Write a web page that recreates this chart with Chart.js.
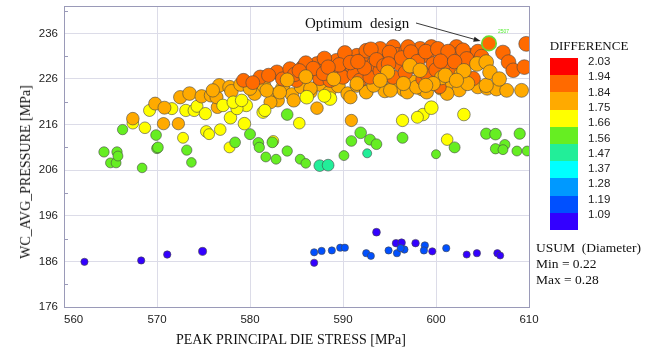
<!DOCTYPE html>
<html><head><meta charset="utf-8">
<script src="https://cdn.jsdelivr.net/npm/chart.js@4.4.1/dist/chart.umd.min.js"></script>
<style>
html,body{margin:0;padding:0;background:#fff;}
#wrap{position:relative;width:647px;height:355px;overflow:hidden;background:#fff;}
#wrap canvas{position:absolute;left:0;top:0;}
.t{position:absolute;white-space:pre;font-family:"Liberation Serif","Times New Roman",serif;color:#111;line-height:1;}
.n{position:absolute;white-space:pre;font-family:"Liberation Sans",Arial,sans-serif;font-size:11.5px;color:#222;line-height:1;transform:translateY(-50%);}
.box{position:absolute;left:550px;width:28px;}
</style></head><body>
<div id="wrap">
<canvas id="c" width="647" height="355"></canvas>
<div class="t" id="xt" style="font-size:14px;left:291px;top:340px;transform:translate(-50%,-50%);">PEAK PRINCIPAL DIE STRESS [MPa]</div>
<div class="t" id="yt" style="font-size:14px;left:26px;top:172px;transform:translate(-50%,-50%) rotate(-90deg);">WC_AVG_PRESSURE [MPa]</div>
<div class="t" style="font-size:15px;left:305px;top:23px;transform:translateY(-50%);">Optimum  design</div>
<div class="t" style="font-size:5px;left:498px;top:29px;color:#55ee33;font-family:'Liberation Sans',sans-serif;">2507</div>
<div class="t" style="font-size:13px;left:589px;top:45px;transform:translate(-50%,-50%);">DIFFERENCE</div>
<div id="legend"></div>
<div class="t" style="font-size:13.5px;left:536px;top:248px;transform:translateY(-50%);">USUM  (Diameter)</div>
<div class="t" style="font-size:13.5px;left:536px;top:264px;transform:translateY(-50%);">Min = 0.22</div>
<div class="t" style="font-size:13.5px;left:536px;top:280px;transform:translateY(-50%);">Max = 0.28</div>
</div>
<script>
// ---- data: [peak principal die stress, wc avg pressure, difference, usum diameter]
const xTicks = [560, 570, 580, 590, 600, 610];
const yTicks = [176, 186, 196, 206, 216, 226, 236];
const legendLabels = ["2.03","1.94","1.84","1.75","1.66","1.56","1.47","1.37","1.28","1.19","1.09"];
const legendBounds = [2.03,1.94,1.84,1.75,1.66,1.56,1.47,1.37,1.28,1.19,1.09];
const legendColors = ["#ff0000","#ff6a00","#ffaa00","#ffff00","#66ee22","#22ee99","#00ffff","#0099ff","#0050ff","#3300ff"];
const usumMin = 0.22, usumMax = 0.28;

const yellowLow = [
 [567.4,216.3,1.70,0.255],[568.7,215.3,1.71,0.255],[572.8,213.1,1.69,0.25],[569.2,219.1,1.72,0.258],
 [571.6,219.5,1.70,0.258],[573.1,219.1,1.71,0.26],[574.0,219.1,1.72,0.26],[574.3,220.0,1.73,0.258],
 [575.2,218.4,1.70,0.26],[575.3,214.5,1.69,0.255],[575.6,213.9,1.68,0.25],[576.8,214.9,1.70,0.255],
 [577.9,217.5,1.72,0.262],[579.4,216.2,1.71,0.262],[581.4,218.7,1.73,0.26],[577.8,211.0,1.68,0.25],
 [582.5,212.4,1.69,0.25],[585.3,216.3,1.71,0.255],[596.4,216.9,1.70,0.26],[598.6,218.2,1.72,0.262],
 [599.5,219.7,1.73,0.27],[603.0,218.2,1.72,0.262],[601.2,212.7,1.69,0.255],[598.0,217.6,1.71,0.258]
];
const greenPts = [
 [564.3,210.0,1.61,0.245],[565.7,210.0,1.60,0.245],[565.0,207.6,1.59,0.242],[565.6,207.6,1.60,0.242],
 [565.8,209.1,1.60,0.242],[568.4,206.5,1.58,0.24],[566.3,214.9,1.62,0.245],[569.9,213.7,1.62,0.248],
 [570.0,210.8,1.60,0.248],[570.1,211.0,1.61,0.248],[573.2,210.4,1.60,0.245],[573.7,207.7,1.59,0.24],
 [580.0,213.9,1.62,0.25],[578.4,212.1,1.61,0.248],[580.9,212.0,1.61,0.248],[581.0,211.0,1.60,0.245],
 [582.4,212.1,1.61,0.248],[581.7,208.9,1.59,0.242],[582.8,208.4,1.59,0.242],[584.0,210.2,1.60,0.245],
 [585.4,208.4,1.59,0.242],[586.0,207.5,1.58,0.24],[590.1,209.2,1.59,0.242],[591.9,214.2,1.63,0.255],
 [590.9,212.4,1.61,0.248],[592.9,212.7,1.62,0.25],[593.6,211.7,1.61,0.248],[596.4,213.1,1.62,0.25],
 [602.0,211.0,1.61,0.25],[600.0,209.5,1.58,0.235],[605.4,214.0,1.63,0.252],[606.4,213.9,1.63,0.255],
 [609.0,214.0,1.62,0.252],[606.4,210.7,1.60,0.245],[607.4,211.6,1.61,0.245],[607.2,210.5,1.60,0.242],
 [608.7,210.2,1.60,0.242],[609.8,210.2,1.60,0.242],[584.0,218.2,1.64,0.255]
];
const tealPts = [[587.5,207.0,1.52,0.255],[588.4,207.1,1.51,0.256],[592.6,209.7,1.53,0.235]];
const indigoPts = [
 [562.2,185.9,1.12,0.222],[568.3,186.2,1.13,0.222],[571.1,187.5,1.12,0.223],[574.9,188.2,1.14,0.228],
 [586.9,185.7,1.13,0.222],[593.6,192.4,1.15,0.226],[595.7,190.0,1.14,0.224],[596.3,190.1,1.16,0.225],
 [597.8,190.0,1.15,0.224],[599.6,188.2,1.14,0.222],[603.3,187.5,1.13,0.221],[604.4,187.8,1.14,0.222],
 [606.6,187.8,1.15,0.222],[606.9,187.3,1.13,0.221]
];
const bluePts = [
 [586.9,188.0,1.21,0.222],[587.7,188.3,1.22,0.222],[588.8,188.4,1.21,0.222],[589.7,189.0,1.23,0.222],
 [590.2,189.0,1.22,0.222],[592.5,187.8,1.21,0.222],[593.0,187.2,1.20,0.221],[594.9,188.4,1.22,0.222],
 [595.8,187.8,1.21,0.222],[596.6,188.6,1.23,0.223],[596.2,188.9,1.22,0.222],[598.8,189.5,1.22,0.223],
 [598.7,188.4,1.21,0.222],[601.1,188.9,1.22,0.222]
];
const orangeLow = [
 [567.4,217.3,1.77,0.262],[569.8,220.6,1.78,0.265],[570.8,219.7,1.77,0.265],[570.7,216.2,1.77,0.26],
 [572.3,216.2,1.76,0.26],[576.5,219.8,1.78,0.262],[587.2,219.6,1.77,0.262],[590.9,216.9,1.76,0.26]
];
const orangeBand = [
 [572.5,222.0,1.79,0.268],[573.5,222.8,1.80,0.27],[574.8,222.2,1.79,0.268],[575.8,222.4,1.80,0.268],
 [576.4,222.0,1.79,0.266],[576.7,224.6,1.81,0.27],[577.8,224.2,1.80,0.27],[576.0,223.5,1.80,0.268],
 [578.0,223.3,1.79,0.27],[579.0,224.8,1.81,0.272],[580.5,222.8,1.80,0.27],[581.5,224.5,1.81,0.272],
 [582.5,222.5,1.79,0.27],[583.5,224.0,1.80,0.272],[584.5,222.6,1.79,0.27],[585.5,224.3,1.81,0.272],
 [586.5,223.2,1.80,0.27],[587.5,224.8,1.81,0.272],[588.5,223.0,1.80,0.27],[589.5,224.5,1.81,0.272],
 [590.5,222.8,1.79,0.27],[591.5,224.6,1.81,0.272],[592.5,223.3,1.80,0.27],[593.5,224.9,1.82,0.274],
 [594.5,223.4,1.80,0.272],[595.5,225.1,1.82,0.274],[596.5,223.7,1.80,0.272],[597.5,225.3,1.82,0.274],
 [598.5,223.8,1.81,0.272],[599.5,225.3,1.82,0.274],[600.5,224.0,1.81,0.272],[601.5,225.5,1.82,0.275],
 [602.5,223.6,1.80,0.272],[603.5,225.2,1.82,0.275],[604.5,224.3,1.81,0.274],[605.5,224.0,1.81,0.274],
 [606.5,223.8,1.80,0.272],[607.6,223.5,1.80,0.272],[609.2,223.5,1.80,0.272],[583.0,221.3,1.78,0.266],
 [584.7,221.3,1.78,0.268],[582.2,220.9,1.78,0.266],[590.8,222.0,1.79,0.268],[580.0,223.9,1.80,0.27],
 [581.8,223.5,1.80,0.27],[583.2,223.1,1.79,0.27],[586.5,223.9,1.80,0.27],[592.5,223.1,1.80,0.27],
 [593.3,224.6,1.81,0.272],[595.1,223.5,1.80,0.272],[596.9,223.1,1.80,0.27],[599.0,223.1,1.80,0.27],
 [601.2,222.8,1.79,0.27],[597.9,224.2,1.81,0.272],[579.6,220.2,1.71,0.262],[578.6,219.5,1.70,0.26],
 [577.1,220.2,1.71,0.262],[578.2,220.9,1.72,0.262],[579.1,221.3,1.72,0.262],[581.6,219.1,1.71,0.26]
];
const darkBand = [
 [579.3,225.7,1.88,0.272],[581.1,226.4,1.88,0.274],[582.9,227.5,1.89,0.275],[583.5,226.0,1.88,0.274],
 [584.3,228.2,1.89,0.276],[585.0,225.7,1.88,0.274],[585.7,228.6,1.89,0.276],[586.3,227.4,1.89,0.275],
 [587.2,229.3,1.90,0.277],[587.5,226.1,1.88,0.274],[588.2,229.3,1.90,0.277],[588.6,225.7,1.88,0.274],
 [589.0,228.0,1.89,0.276],[589.3,230.0,1.90,0.277],[589.8,227.5,1.89,0.275],[590.0,226.4,1.88,0.274],
 [590.4,230.4,1.90,0.278],[591.0,228.7,1.89,0.276],[591.2,227.0,1.89,0.275],[591.5,231.1,1.91,0.278],
 [591.8,225.7,1.88,0.274],[592.0,230.0,1.90,0.277],[592.5,232.2,1.91,0.278],[592.9,226.4,1.88,0.274],
 [593.3,229.3,1.90,0.277],[593.8,231.0,1.90,0.278],[594.0,232.6,1.91,0.278],[594.0,227.8,1.89,0.276],
 [594.7,230.0,1.90,0.277],[595.4,233.0,1.91,0.279],[595.4,226.4,1.88,0.275],[595.8,231.3,1.90,0.278],
 [596.1,229.3,1.90,0.277],[596.7,227.4,1.89,0.276],[596.8,232.2,1.91,0.278],[597.6,230.8,1.90,0.278],
 [597.9,228.6,1.89,0.277],[598.3,232.6,1.91,0.279],[598.6,226.0,1.88,0.275],[599.0,231.2,1.90,0.278],
 [599.0,227.1,1.89,0.276],[599.5,233.0,1.91,0.279],[599.7,229.3,1.90,0.277],[600.0,228.0,1.89,0.276],
 [600.4,224.2,1.86,0.265],[600.8,231.5,1.90,0.278],[601.0,230.0,1.90,0.277],[601.5,228.6,1.89,0.277],
 [601.9,227.1,1.89,0.276],[602.2,233.0,1.91,0.279],[602.5,231.5,1.90,0.278],[603.0,229.3,1.90,0.277],
 [603.7,231.1,1.90,0.278],[604.0,226.1,1.88,0.275],[604.5,232.0,1.91,0.278],[607.2,231.8,1.90,0.278],
 [607.8,229.7,1.89,0.278],[608.3,227.9,1.89,0.277],[609.5,228.6,1.89,0.278],[609.7,233.7,1.91,0.279],
 [586.0,229.5,1.90,0.276],[588.0,230.5,1.90,0.277],[590.2,231.7,1.91,0.278],[593.0,232.5,1.91,0.278],
 [597.0,233.0,1.91,0.279],
 [584.8,227.0,1.89,0.275],[586.8,228.3,1.89,0.276],[587.9,227.2,1.89,0.275],[589.6,229.1,1.90,0.277],
 [590.8,229.6,1.90,0.277],[592.3,228.4,1.89,0.276],[593.6,230.2,1.90,0.277],[594.4,228.9,1.89,0.277],
 [595.0,231.8,1.91,0.278],[596.3,230.6,1.90,0.278],[597.3,231.9,1.91,0.278],[598.0,229.8,1.90,0.277],
 [598.9,232.0,1.91,0.278],[600.2,232.6,1.91,0.279],[601.3,232.0,1.91,0.278],[602.9,232.3,1.91,0.278],
 [603.3,230.4,1.90,0.278],[604.9,230.9,1.90,0.278],[585.3,227.8,1.89,0.276],[588.4,228.6,1.89,0.276],
 [591.6,229.8,1.90,0.277],[594.9,229.3,1.90,0.277],[600.5,229.9,1.90,0.277],[602.0,229.8,1.90,0.277],
 [580.3,225.2,1.88,0.272],[582.0,226.8,1.88,0.274]
];
const orangeUpper = [
 [597.2,228.9,1.80,0.278],[598.3,227.9,1.80,0.276],[604.4,229.3,1.79,0.278],[605.4,229.7,1.80,0.278],
 [602.7,227.0,1.80,0.276],[600.6,226.3,1.81,0.275],[594.8,227.5,1.81,0.274],[589.0,226.0,1.81,0.272],
 [586.0,226.5,1.81,0.272],[584.0,225.8,1.81,0.272],[591.5,225.0,1.81,0.272],[594.0,225.7,1.81,0.274],
 [596.5,225.0,1.81,0.274],[599.7,225.0,1.81,0.274],[603.4,225.0,1.81,0.275],[605.4,224.6,1.81,0.275],
 [601.0,226.8,1.80,0.276],[603.0,227.8,1.80,0.277],[605.8,227.5,1.80,0.277],[606.8,226.0,1.80,0.276],
 [602.2,225.7,1.81,0.275],[598.9,224.6,1.81,0.274],
 [586.1,222.0,1.73,0.27],[588.6,221.7,1.73,0.27],[588.0,222.3,1.72,0.265]
];
const optimumPt = [[605.7,233.8,1.90,0.276]];

const groups = [yellowLow, greenPts, tealPts, indigoPts, bluePts, orangeLow, orangeBand, darkBand, orangeUpper, optimumPt];
const allPts = groups.flat();
const optimumIndex = allPts.length - 1;

function colorFor(d){
  for (let i = 0; i < legendColors.length; i++) {
    if (d >= legendBounds[i+1]) return legendColors[i];
  }
  return legendColors[legendColors.length-1];
}
function radiusFor(u){ return 3.5 + (u - usumMin) / (usumMax - usumMin) * 4; }

// legend
const leg = document.getElementById('legend');
const boxTop = 58, boxH = 17.2;
legendColors.forEach((c,i)=>{
  const b = document.createElement('div');
  b.className = 'box';
  b.style.top = (boxTop + i*boxH) + 'px';
  b.style.height = (boxH + 0.5) + 'px';
  b.style.background = c;
  leg.appendChild(b);
});
legendLabels.forEach((t,i)=>{
  const s = document.createElement('div');
  s.className = 'n';
  s.style.left = '588px';
  s.style.top = (62 + i*15.3) + 'px';
  s.textContent = t;
  leg.appendChild(s);
});

const framePlugin = {
  id:'frame',
  beforeDatasetsDraw(chart){
    const {ctx, chartArea:a, scales} = chart;
    ctx.save();
    ctx.strokeStyle = '#9a9ab8';
    ctx.lineWidth = 1;
    ctx.strokeRect(Math.round(a.left)+0.5, Math.round(a.top)+0.5, Math.round(a.right-a.left), Math.round(a.bottom-a.top));
    for (let i = 0; i < yTicks.length; i++) {
      const py = Math.round(scales.y.getPixelForValue(yTicks[i] + 5)) + 0.5;
      if (py < a.top) continue;
      ctx.beginPath(); ctx.moveTo(a.left, py); ctx.lineTo(a.left + 4, py); ctx.stroke();
    }
    ctx.restore();
  },
  afterDatasetsDraw(chart){
    const {ctx, scales} = chart;
    const p = allPts[optimumIndex];
    const cx = scales.x.getPixelForValue(p[0]), cy = scales.y.getPixelForValue(p[1]);
    const sx = 416, sy = 23;
    const dx = cx - sx, dy = cy - sy, len = Math.hypot(dx, dy);
    const ux = dx/len, uy = dy/len;
    const ex = cx - ux*(radiusFor(p[3])+1.5), ey = cy - uy*(radiusFor(p[3])+1.5);
    ctx.save();
    ctx.strokeStyle = '#222'; ctx.fillStyle = '#222'; ctx.lineWidth = 0.9;
    ctx.beginPath(); ctx.moveTo(sx, sy); ctx.lineTo(ex - ux*5, ey - uy*5); ctx.stroke();
    ctx.beginPath();
    ctx.moveTo(ex, ey);
    ctx.lineTo(ex - ux*7 - uy*2.6, ey - uy*7 + ux*2.6);
    ctx.lineTo(ex - ux*7 + uy*2.6, ey - uy*7 - ux*2.6);
    ctx.closePath(); ctx.fill();
    ctx.restore();
  }
};

const tickFont = {family:"'Liberation Sans', Arial, sans-serif", size:11.5};
new Chart(document.getElementById('c').getContext('2d'), {
  type:'scatter',
  data:{datasets:[{
    data: allPts.map(p=>({x:p[0], y:p[1]})),
    pointRadius: allPts.map(p=>radiusFor(p[3])),
    pointHoverRadius: allPts.map(p=>radiusFor(p[3])),
    pointBackgroundColor: allPts.map(p=>colorFor(p[2])),
    pointBorderColor: allPts.map((p,i)=> i===optimumIndex ? '#66dd33' : 'rgba(70,70,70,0.75)'),
    pointBorderWidth: allPts.map((p,i)=> i===optimumIndex ? 1.6 : 0.8),
    clip: 0
  }]},
  options:{
    responsive:false, animation:false, devicePixelRatio:1,
    events: [],
    plugins:{legend:{display:false}, tooltip:{enabled:false}},
    layout:{autoPadding:false, padding:{left:0, right:118, top:6, bottom:0}},
    scales:{
      x:{type:'linear', min:560, max:610,
        afterBuildTicks: s=>{ s.ticks = xTicks.map(v=>({value:v})); },
        afterFit: s=>{ s.height = 48; s.paddingLeft = 0; s.paddingRight = 0; },
        grid:{color:'#dcdce8', drawTicks:false},
        border:{color:'#9a9ab8'},
        ticks:{padding:6, font:tickFont, color:'#222', maxRotation:0, autoSkip:false,
          callback: v => v === xTicks[0] ? '      ' + v : String(v)}
      },
      y:{type:'linear', min:176, max:242,
        afterBuildTicks: s=>{ s.ticks = yTicks.map(v=>({value:v})); },
        afterFit: s=>{ s.width = 64; s.paddingTop = 0; s.paddingBottom = 0; },
        grid:{color:'#dcdce8', drawTicks:false},
        border:{color:'#9a9ab8'},
        ticks:{padding:6, font:tickFont, color:'#222', autoSkip:false, callback: v => String(v)}
      }
    }
  },
  plugins:[framePlugin]
});
</script>
</body></html>
